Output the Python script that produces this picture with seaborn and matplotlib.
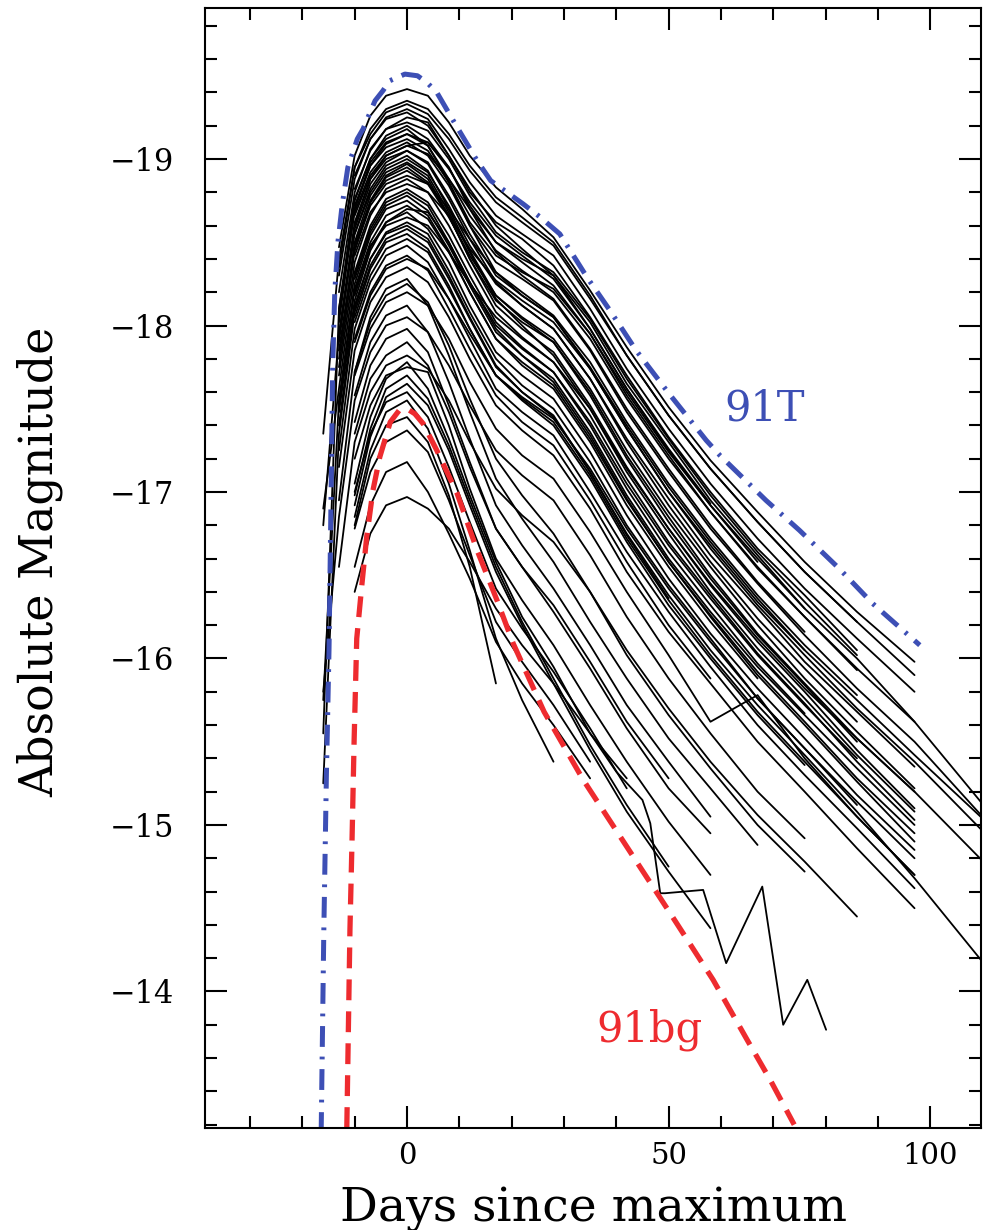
import numpy as np
import pandas as pd
import matplotlib
matplotlib.use("Agg")
import matplotlib.pyplot as plt
import seaborn as sns

N = np.nan

# ---- data -------------------------------------------------------------
days = [-16, -13, -10, -7, -4, 0, 4, 8, 12, 17, 22, 28, 35, 42, 50, 58, 67, 76, 86, 97, 112]

sn01 = [N, -18.47, -19.02, -19.26, -19.38, -19.42, -19.38, -19.22, -19.02, -18.83, -18.70, -18.53, -18.21, -17.87, -17.51, -17.19, -16.88, -16.58, -16.28, -15.98, N]
sn02 = [-17.35, -18.40, -18.95, -19.15, -19.28, -19.33, -19.27, -19.12, -18.93, -18.74, -18.62, -18.48, -18.16, -17.82, -17.46, -17.14, -16.82, -16.52, -16.22, -15.90, N]
sn03 = [N, -18.30, -18.88, -19.12, -19.25, -19.30, -19.24, -19.06, -18.86, -18.66, -18.55, -18.42, -18.10, -17.74, -17.38, -17.05, -16.72, -16.42, -16.12, -15.80, N]
sn04 = [N, N, -18.82, -19.05, -19.18, -19.25, -19.22, -19.02, -18.80, -18.62, -18.52, -18.36, -18.05, -17.70, -17.33, -17.00, -16.66, -16.38, -16.05, N, N]
sn05 = [N, -18.05, -18.75, -19.00, -19.14, -19.20, -19.12, -18.95, -18.72, -18.50, -18.40, -18.30, -18.02, -17.65, -17.30, -16.95, -16.62, -16.30, -16.00, -15.62, -15.05]
sn06 = [N, N, -18.70, -18.98, -19.10, -19.15, -19.08, -18.88, -18.66, -18.45, -18.33, -18.20, -17.92, -17.56, -17.20, -16.88, -16.55, -16.25, -15.93, N, N]
sn07 = [-15.55, -18.10, -18.68, -18.92, -19.04, -19.10, -19.02, -18.84, -18.60, -18.38, -18.28, -18.15, -17.85, -17.48, -17.12, -16.78, -16.45, -16.14, -15.82, -15.50, -14.98]
sn08 = [N, -17.90, -18.58, -18.85, -18.98, -19.05, -18.98, -18.78, -18.55, -18.30, -18.18, -18.05, -17.75, -17.40, -17.03, -16.70, -16.36, -16.05, N, N, N]
sn09 = [N, N, -18.55, -18.80, -18.94, -19.00, -18.92, -18.72, -18.48, -18.25, -18.12, -17.98, -17.68, -17.32, -16.96, -16.62, -16.30, -15.98, -15.68, -15.35, N]
sn10 = [N, -17.75, -18.45, -18.75, -18.90, -18.97, -18.88, -18.66, -18.40, -18.15, -18.02, -17.90, -17.60, -17.22, -16.85, -16.50, -16.15, -15.85, -15.52, -15.20, -14.72]
sn11 = [N, N, -18.72, -18.96, -19.07, -19.12, -19.05, -18.86, -18.62, -18.42, -18.32, -18.22, -17.95, -17.60, -17.24, -16.92, -16.60, -16.30, N, N, N]
sn12 = [N, N, -18.48, -18.74, -18.87, -18.93, -18.85, -18.65, -18.42, -18.18, -18.05, -17.92, -17.62, -17.25, -16.88, -16.55, -16.20, -15.88, -15.56, -15.22, N]
sn13 = [N, -17.70, -18.38, -18.66, -18.82, -18.88, -18.80, -18.60, -18.36, -18.08, -17.93, -17.78, -17.46, -17.08, -16.70, -16.38, -16.03, -15.73, -15.38, -15.03, N]
sn14 = [-16.90, -17.62, -18.32, -18.60, -18.76, -18.82, -18.74, -18.54, -18.30, -18.02, -17.87, -17.72, -17.40, -17.02, -16.64, -16.32, -15.97, -15.67, N, N, N]
sn15 = [N, N, -18.28, -18.56, -18.72, -18.78, -18.69, -18.48, -18.24, -17.96, -17.82, -17.68, -17.36, -16.98, -16.60, -16.28, -15.95, -15.66, -15.34, -15.00, N]
sn16 = [N, -17.50, -18.22, -18.50, -18.66, -18.72, -18.64, -18.44, -18.20, -17.92, -17.76, -17.62, -17.30, -16.92, -16.55, -16.22, -15.88, N, N, N, N]
sn17 = [N, N, -18.18, -18.47, -18.62, -18.68, -18.58, -18.38, -18.12, -17.84, -17.70, -17.56, -17.24, -16.86, -16.48, -16.15, -15.82, -15.52, -15.18, -14.85, N]
sn18 = [N, -17.40, -18.12, -18.40, -18.56, -18.62, -18.55, -18.33, -18.08, -17.80, -17.64, -17.50, -17.18, -16.80, -16.44, -16.12, -15.76, -15.46, -15.12, N, N]
sn19 = [-15.25, -17.35, -18.08, -18.36, -18.52, -18.58, -18.50, -18.28, -18.04, -17.75, -17.60, -17.46, -17.12, -16.75, -16.38, -16.05, -15.72, -15.42, -15.08, -14.68, -14.10]
sn20 = [N, N, -18.02, -18.30, -18.46, -18.52, -18.44, -18.22, -17.98, -17.70, -17.55, -17.40, -17.08, -16.70, -16.32, -16.00, -15.66, -15.36, N, N, N]
sn21 = [N, -17.25, -17.98, -18.26, -18.42, -18.48, -18.38, -18.16, -17.92, -17.62, -17.48, -17.34, -17.00, -16.64, -16.28, -15.95, -15.60, -15.30, -14.98, -14.62, N]
sn22 = [N, N, -17.92, -18.20, -18.36, -18.42, -18.33, -18.10, -17.86, -17.58, -17.42, -17.28, -16.95, -16.58, -16.20, -15.88, N, N, N, N, N]
sn23 = [N, N, -18.42, -18.68, -18.80, -18.85, -18.80, -18.66, -18.46, -18.27, -18.15, -18.02, -17.74, -17.38, -17.00, -16.68, -16.34, -16.05, -15.75, -15.42, -14.98]
sn24 = [N, -17.85, -18.48, -18.74, -18.89, -18.95, -18.86, -18.66, -18.40, -18.12, -17.98, -17.84, -17.52, -17.15, -16.78, -16.44, -16.10, -15.80, -15.45, -15.10, N]
sn25 = [N, -17.15, -17.85, -18.14, -18.29, -18.35, -18.26, -18.05, -17.80, -17.52, -17.37, -17.22, -16.90, -16.52, -16.16, -15.85, -15.50, -15.20, -14.86, -14.50, N]
sn26 = [N, -16.95, -17.72, -18.05, -18.22, -18.28, -18.12, -17.82, -17.48, -17.08, -16.84, -16.58, -16.22, -15.88, -15.52, -15.22, -14.88, N, N, N, N]
sn27 = [N, N, -17.70, -17.98, -18.14, -18.20, -18.12, -17.92, -17.66, -17.38, -17.22, -17.08, -16.76, -16.40, -16.02, -15.62, -15.78, -15.40, -15.05, -14.70, N]
sn28 = [N, N, -17.58, -17.90, -18.06, -18.12, -17.96, -17.66, -17.32, -16.92, -16.68, -16.42, -16.08, -15.72, -15.38, -15.05, N, N, N, N, N]
sn29 = [-15.80, -16.85, -17.55, -17.84, -18.00, -18.05, -17.96, -17.76, -17.52, -17.25, -17.10, -16.95, -16.62, -16.25, -15.88, -15.55, -15.20, -14.92, N, N, N]
sn30 = [N, N, -17.42, -17.76, -17.92, -17.98, -17.84, -17.52, -17.18, -16.78, -16.55, -16.28, -15.94, -15.58, -15.22, -14.95, N, N, N, N, N]
sn31 = [N, N, -17.35, -17.68, -17.82, -17.90, -17.76, -17.48, -17.15, -16.78, -16.55, -16.32, -15.98, -15.62, -15.28, N, N, N, N, N, N]
sn32 = [N, -16.55, -17.30, -17.60, -17.76, -17.82, -17.74, -17.55, -17.30, -17.02, -16.86, -16.70, -16.40, -16.05, -15.70, -15.38, -15.06, -14.78, -14.45, N, N]
sn33 = [N, N, -17.20, -17.52, -17.70, -17.75, -17.72, -17.40, -17.02, -16.60, -16.35, -16.08, -15.72, -15.38, -15.02, -14.70, N, N, N, N, N]
sn34 = [N, N, -16.98, -17.38, -17.62, -17.70, -17.56, -17.28, -16.95, -16.55, -16.22, -15.88, -15.48, -15.12, -14.75, N, N, N, N, N, N]
sn35 = [N, N, -16.92, -17.33, -17.57, -17.65, -17.52, -17.25, -16.92, -16.52, -16.20, -15.85, -15.45, -15.08, -14.72, -14.38, N, N, N, N, N]
sn36 = [N, N, -17.00, -17.35, -17.54, -17.60, -17.45, -17.15, -16.82, -16.42, -16.18, -15.92, -15.58, -15.22, N, N, N, N, N, N, N]
sn37 = [N, N, -16.78, -17.12, -17.30, -17.37, -17.24, -16.95, -16.62, -16.22, -15.98, -15.72, -15.38, N, N, N, N, N, N, N, N]
sn38 = [N, N, -16.55, -16.92, -17.12, -17.18, -17.00, -16.75, -16.48, -16.10, -15.85, -15.60, -15.28, N, N, N, N, N, N, N, N]
sn39 = [N, N, -16.40, -16.75, -16.92, -16.97, -16.90, -16.78, -16.58, -16.30, -16.08, -15.85, -15.55, -15.28, N, N, N, N, N, N, N]
sn40 = [N, N, -16.80, -17.20, -17.40, -17.45, -17.30, -16.98, -16.55, -15.85, N, N, N, N, N, N, N, N, N, N, N]
sn41 = [N, N, -16.85, -17.25, -17.48, -17.55, -17.38, -17.05, -16.65, -16.12, -15.75, -15.38, N, N, N, N, N, N, N, N, N]
sn42 = [N, N, -18.90, -19.12, -19.24, -19.28, -19.20, -19.02, -18.82, -18.60, -18.46, -18.30, -17.98, -17.62, -17.25, -16.92, -16.58, N, N, N, N]
sn43 = [N, -18.10, -18.76, -19.00, -19.12, -19.18, -19.08, -18.86, -18.60, -18.32, -18.18, -18.05, -17.74, -17.38, -17.00, -16.66, -16.32, -16.02, -15.70, -15.38, -14.90]
sn44 = [N, N, -18.66, -18.90, -19.02, -19.08, -19.03, -18.88, -18.70, -18.50, -18.38, -18.24, -17.95, -17.58, -17.22, -16.88, -16.54, -16.25, -15.94, -15.62, N]
sn45 = [N, -17.95, -18.55, -18.82, -18.96, -19.02, -18.93, -18.70, -18.45, -18.18, -18.04, -17.90, -17.58, -17.20, -16.82, -16.48, -16.14, -15.84, -15.50, N, N]
sn46 = [N, N, -18.45, -18.72, -18.85, -18.90, -18.85, -18.70, -18.52, -18.32, -18.20, -18.06, -17.78, -17.42, -17.05, -16.72, -16.38, -16.08, -15.78, N, N]
sn47 = [-15.75, -17.55, -18.25, -18.54, -18.70, -18.75, -18.66, -18.45, -18.20, -17.92, -17.78, -17.64, -17.32, -16.95, -16.58, -16.26, -15.92, -15.62, -15.28, -14.95, N]
sn48 = [N, N, -18.20, -18.48, -18.60, -18.65, -18.60, -18.44, -18.25, -18.05, -17.92, -17.78, -17.50, -17.14, -16.78, -16.45, -16.12, -15.82, -15.52, -15.20, N]
sn49 = [N, N, -18.05, -18.34, -18.50, -18.55, -18.46, -18.24, -17.98, -17.70, -17.56, -17.42, -17.10, -16.72, -16.35, -16.02, -15.68, -15.38, -15.05, -14.70, N]
sn50 = [N, -18.35, -18.95, -19.18, -19.30, -19.35, -19.30, -19.15, -18.96, -18.77, -18.65, -18.50, -18.18, -17.82, -17.46, -17.14, -16.82, -16.52, -16.22, N, N]
sn51 = [N, -18.20, -18.80, -19.06, -19.18, -19.22, -19.17, -19.00, -18.78, -18.56, -18.44, -18.32, -18.04, -17.68, -17.32, -16.98, -16.64, -16.34, -16.02, N, N]
sn52 = [N, N, -18.60, -18.88, -19.02, -19.08, -19.10, -18.95, -18.70, -18.44, -18.30, -18.16, -17.86, -17.50, -17.14, -16.80, -16.46, -16.16, N, N, N]
sn53 = [N, -17.80, -18.50, -18.78, -18.92, -18.98, -18.90, -18.68, -18.44, -18.16, -18.00, -17.82, -17.50, -17.12, -16.75, -16.40, -16.06, -15.76, -15.42, -15.08, N]
sn54 = [N, N, -18.30, -18.58, -18.74, -18.80, -18.72, -18.50, -18.26, -18.00, -17.86, -17.72, -17.42, -17.05, -16.68, -16.36, -16.02, -15.72, -15.40, N, N]
sn55 = [N, -17.48, -18.15, -18.45, -18.62, -18.70, -18.68, -18.50, -18.26, -17.98, -17.82, -17.66, -17.34, -16.96, -16.58, -16.25, -15.90, -15.60, -15.26, -14.90, N]
sn56 = [N, N, -18.10, -18.40, -18.55, -18.60, -18.52, -18.30, -18.05, -17.76, -17.60, -17.45, -17.12, -16.74, -16.36, N, N, N, N, N, N]
sn57 = [N, -18.02, -18.70, -18.96, -19.09, -19.15, -19.10, -18.94, -18.74, -18.54, -18.42, -18.28, -17.98, -17.62, -17.26, -16.93, N, N, N, N, N]
sn58 = [N, N, -17.90, -18.18, -18.34, -18.40, -18.34, -18.16, -17.95, -17.70, -17.57, -17.44, -17.14, -16.78, -16.42, -16.10, -15.76, -15.46, -15.14, -14.80, N]
sn59 = [-16.80, -17.95, -18.62, -18.88, -19.00, -19.05, -18.97, -18.76, -18.52, -18.26, -18.12, -17.98, -17.68, -17.30, -16.92, -16.58, -16.24, -15.94, -15.62, N, N]
sn60 = [N, N, -17.72, -18.02, -18.18, -18.25, -18.14, -17.88, -17.56, -17.20, -16.98, -16.75, -16.40, -16.02, -15.66, -15.34, -15.00, -14.72, N, N, N]

# one irregularly sampled, noisy light curve
zz_days = [-10, -7, -4, 0, 4, 8, 12, 17, 22, 28, 35, 40, 45, 46.5, 48.4, 49.3, 56.6, 61, 67.9, 71.9, 76.5, 80.1]
zz_mags = [-17.05, -17.45, -17.68, -17.78, -17.62, -17.32, -16.98, -16.58, -16.25, -15.95, -15.55, -15.32,
           -15.15, -15.01, -14.59, -14.59, -14.61, -14.17, -14.63, -13.80, -14.07, -13.77]

# templates
t91T_days = [-16.4, -15.9, -15.4, -14.9, -14.5, -14.2, -13.8, -13.2, -12.4, -11.3, -9.5, -8.4, -6.1, -4.6, -3.3,
             -0.4, 2.0, 3.8, 5.7, 9.6, 13.4, 16.0, 19.1, 22.2, 25.5, 29.2, 34.4, 38.8, 43.8, 50.1, 57.2, 59.8,
             68.6, 75.0, 82.6, 89.0, 98.0]
t91T_mags = [-13.15, -14.35, -15.30, -16.05, -17.00, -17.75, -18.20, -18.50, -18.72, -18.95, -19.12, -19.18,
             -19.35, -19.41, -19.47, -19.51, -19.50, -19.46, -19.40, -19.19, -18.99, -18.87, -18.80, -18.73,
             -18.65, -18.55, -18.29, -18.09, -17.85, -17.59, -17.31, -17.22, -16.95, -16.77, -16.54, -16.33, -16.08]

t91bg_days = [-11.5, -10.9, -10.5, -10.1, -9.6, -8.6, -7.7, -6.5, -5.2, -3.2, -1.5, 0.0, 1.5, 3.1, 5.7, 9.6,
              13.4, 17.2, 20.3, 26.2, 33.7, 42.0, 50.3, 58.5, 65.0, 69.4, 74.0]
t91bg_mags = [-13.18, -14.37, -14.91, -15.51, -16.12, -16.45, -16.73, -17.01, -17.21, -17.42, -17.49, -17.50,
              -17.47, -17.41, -17.25, -16.99, -16.65, -16.35, -16.09, -15.68, -15.27, -14.87, -14.47, -14.07,
              -13.71, -13.47, -13.20]

curves = [sn01, sn02, sn03, sn04, sn05, sn06, sn07, sn08, sn09, sn10,
          sn11, sn12, sn13, sn14, sn15, sn16, sn17, sn18, sn19, sn20,
          sn21, sn22, sn23, sn24, sn25, sn26, sn27, sn28, sn29, sn30,
          sn31, sn32, sn33, sn34, sn35, sn36, sn37, sn38, sn39, sn40,
          sn41, sn42, sn43, sn44, sn45, sn46, sn47, sn48, sn49, sn50,
          sn51, sn52, sn53, sn54, sn55, sn56, sn57, sn58, sn59, sn60]

xticks_major = [0, 50, 100]
yticks_major = [-19, -18, -17, -16, -15, -14]

# ---- tidy table -------------------------------------------------------
rows = []
for i, mags in enumerate(curves):
    for d, m in zip(days, mags):
        if not np.isnan(m):
            rows.append((i, d, m))
for d, m in zip(zz_days, zz_mags):
    rows.append((len(curves), d, m))
df = pd.DataFrame(rows, columns=["sn", "day", "mag"])

# ---- style ------------------------------------------------------------
sns.set_style("ticks")
plt.rcParams["font.family"] = ["DejaVu Serif"]
plt.rcParams["lines.scale_dashes"] = False
plt.rcParams["text.color"] = "black"
plt.rcParams["axes.labelcolor"] = "black"
plt.rcParams["xtick.color"] = "black"
plt.rcParams["ytick.color"] = "black"

BLUE = "#3d4fb5"
RED = "#ee2b2f"

fig = plt.figure(figsize=(9.83, 12.30), dpi=100)
ax = fig.add_axes([205 / 983, 1 - 1128 / 1230, (981 - 205) / 983, (1128 - 8) / 1230])

sns.lineplot(data=df, x="day", y="mag", units="sn", estimator=None, sort=False,
             color="black", lw=1.3, ax=ax, legend=False)

ax.plot(t91T_days, t91T_mags, color=BLUE, lw=3.6, dashes=[15, 7, 2, 7])
ax.plot(t91bg_days, t91bg_mags, color=RED, lw=3.8, dashes=[15, 8])

ax.text(68.4, -17.50, "91T", color=BLUE, fontsize=30, ha="center", va="center")
ax.text(46.4, -13.77, "91bg", color=RED, fontsize=30, ha="center", va="center")

ax.set_xlim(-38.6, 109.7)
ax.set_ylim(-13.18, -19.907)

ax.set_xticks(xticks_major)
ax.set_xticks(np.arange(-30, 110, 10), minor=True)
ax.set_yticks(yticks_major)
ax.set_yticks(np.round(np.arange(-19.8, -13.1, 0.2), 1), minor=True)
ax.set_xticklabels([str(t) for t in xticks_major])
ax.set_yticklabels(["\u2212%d" % abs(t) for t in yticks_major])

ax.tick_params(which="both", direction="in", top=True, right=True, width=1.5,
               color="black", labelcolor="black")
ax.tick_params(which="major", length=16)
ax.tick_params(which="minor", length=8.5)
ax.tick_params(axis="y", labelsize=22, pad=22)
ax.tick_params(axis="x", labelsize=21, pad=10)

for s in ax.spines.values():
    s.set_linewidth(1.5)
    s.set_color("black")

ax.set_xlabel("Days since maximum", fontsize=34, va="baseline", color="black")
ax.xaxis.set_label_coords(0.5, (1128 - 1221) / 1120)
ax.set_ylabel("Absolute Magnitude", fontsize=33, va="center", color="black")
ax.yaxis.set_label_coords((40 - 205) / 776, (1128 - 562) / 1120)

fig.savefig("out.png", dpi=100)
